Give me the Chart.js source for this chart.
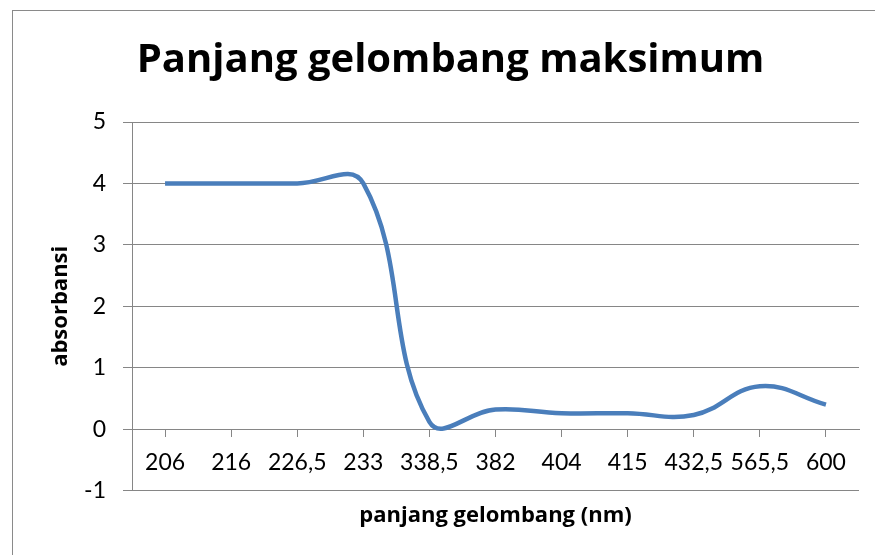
<!DOCTYPE html>
<html>
<head>
<meta charset="utf-8">
<script src="https://cdn.jsdelivr.net/npm/chart.js@4/dist/chart.umd.min.js"></script>
<style>
  html, body { margin: 0; padding: 0; background: #fff; overflow: hidden; }
  #frame {
    position: absolute;
    left: 12px;
    top: 10px;
    border-left: 1px solid #8a8a8a;
    border-top: 1px solid #8a8a8a;
    width: 875px;
    height: 544px;
  }
  canvas { display: block; }
</style>
</head>
<body>
<div id="frame">
  <canvas id="spectrumChart" width="875" height="544"></canvas>
</div>
<script>
const wavelengths = ['206', '216', '226,5', '233', '338,5', '382', '404', '415', '432,5', '565,5', '600']
const absorbance = [4, 4, 4, 4, 0.12, 0.32, 0.26, 0.26, 0.23, 0.7, 0.4]
const yMin = -1
const yMax = 5
const yStep = 1

const gridColor = '#868686'
const tickFont = 'Lato, "Open Sans", sans-serif'
const titleFont = '"Open Sans", Lato, sans-serif'

const ctx = document.getElementById('spectrumChart').getContext('2d')

new Chart(ctx, {
  type: 'line',
  data: {
    labels: wavelengths,
    datasets: [{
      data: absorbance,
      borderColor: '#4a7ebb',
      borderWidth: 4.5,
      tension: 0.42,
      pointRadius: 0,
      fill: false
    }]
  },
  options: {
    responsive: false,
    animation: false,
    devicePixelRatio: 1,
    layout: {
      // equal side padding keeps the main title centred on the frame
      padding: { left: 29, right: 29, top: 0, bottom: 0 }
    },
    plugins: {
      legend: { display: false },
      tooltip: { enabled: false },
      title: {
        display: true,
        text: 'Panjang gelombang maksimum',
        color: '#000',
        font: { family: titleFont, size: 40, weight: 'bold' },
        padding: { top: 26, bottom: 37 }
      },
      subtitle: {
        display: true,
        position: 'bottom',
        fullSize: false,
        text: 'panjang gelombang (nm)',
        color: '#000',
        font: { family: titleFont, size: 22, weight: 'bold' },
        padding: { top: 12, bottom: 26 }
      }
    },
    scales: {
      x: {
        position: { y: 0 },
        offset: true,
        grid: {
          drawOnChartArea: false,
          drawTicks: true,
          tickLength: 7,
          color: gridColor
        },
        border: { display: true, color: gridColor },
        ticks: {
          color: '#000',
          padding: 13,
          maxRotation: 0,
          autoSkip: false,
          font: { family: tickFont, size: 23 }
        }
      },
      y: {
        min: yMin,
        max: yMax,
        afterFit: (scale) => { scale.width = 90 },
        title: {
          display: true,
          text: 'absorbansi',
          color: '#000',
          font: { family: titleFont, size: 22, weight: 'bold' },
          padding: { top: 6, bottom: 0 }
        },
        grid: {
          color: gridColor,
          drawTicks: true,
          tickLength: 9
        },
        border: { display: true, color: gridColor },
        ticks: {
          stepSize: yStep,
          color: '#000',
          padding: 17,
          font: { family: tickFont, size: 23 }
        }
      }
    }
  }
})
</script>
</body>
</html>
